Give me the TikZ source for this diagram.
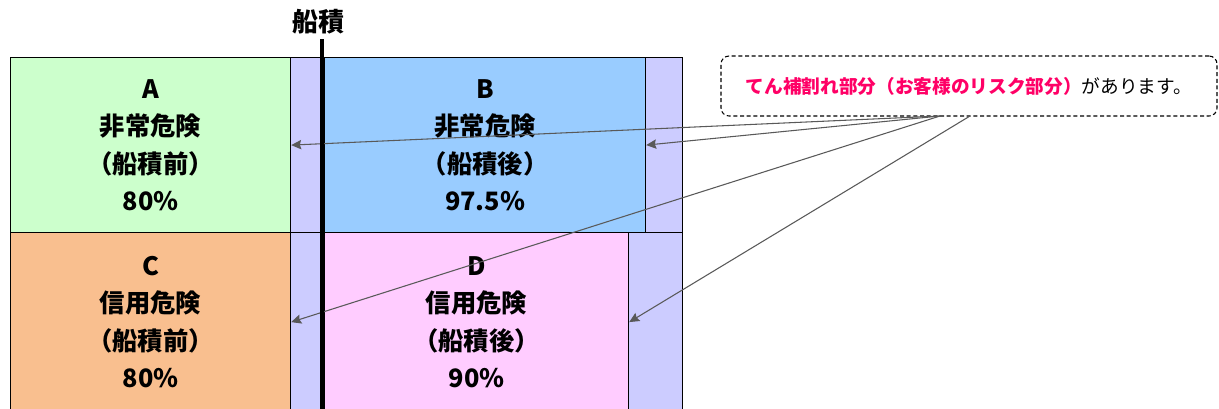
\documentclass[tikz,border=0pt]{standalone}
\usepackage{fontspec}
\setmainfont{Noto Sans CJK JP}
\usetikzlibrary{arrows.meta}
\definecolor{cA}{HTML}{CCFFCC}
\definecolor{cB}{HTML}{99CCFF}
\definecolor{cC}{HTML}{F9BF8F}
\definecolor{cD}{HTML}{FFCCFF}
\definecolor{cS}{HTML}{CCCCFF}
\definecolor{cP}{HTML}{FF0066}
\definecolor{cL}{HTML}{595959}
\begin{document}
\begin{tikzpicture}[x=0.75pt,y=-0.75pt,
  box/.style={draw=black,line width=0.9pt,inner sep=0pt,anchor=north west,align=center,
    font=\bfseries\fontsize{19}{28}\selectfont},
  strip/.style={box,fill=cS},
  conn/.style={draw=cL,line width=0.8pt,-{Stealth[length=7.5pt,width=7pt,inset=1pt]}},
  callout/.style={draw=black,line width=0.8pt,dash pattern=on 3pt off 2pt,rounded corners=6pt,
    minimum width=372pt,minimum height=45pt,inner sep=0pt,font=\fontsize{14}{16}\selectfont},
  thick divider/.style={line width=3.4pt,draw=black}]
\useasboundingbox (0,0) rectangle (1219,408);
\clip (0,0) rectangle (1219,408);
% top row
\node[box,fill=cA,minimum width=210pt,minimum height=131.25pt] (A) at (10,57)
  {A\\非常危険\\（船積前）\\80\%};
\node[strip,minimum width=25.5pt,minimum height=131.25pt] (sAB) at (290,57) {};
\node[box,fill=cB,minimum width=240.75pt,minimum height=131.25pt] (B) at (324,57)
  {B\\非常危険\\（船積後）\\97.5\%};
\node[strip,minimum width=27.75pt,minimum height=131.25pt] (sB) at (645,57) {};
% bottom row
\node[box,fill=cC,minimum width=210pt,minimum height=134.25pt] (C) at (10,232)
  {C\\信用危険\\（船積前）\\80\%};
\node[strip,minimum width=25.5pt,minimum height=134.25pt] (sCD) at (290,232) {};
\node[box,fill=cD,minimum width=228pt,minimum height=134.25pt] (D) at (324,232)
  {D\\信用危険\\（船積後）\\90\%};
\node[strip,minimum width=40.5pt,minimum height=134.25pt] (sD) at (628,232) {};
% callout
\node[callout] (call) at (969,86)
  {{\color{cP}\bfseries てん補割れ部分（お客様のリスク部分）}があります。};
\coordinate (o1) at (940,116);
\coordinate (o2) at (970,116);
\draw[conn] (o1) -- (A.east);
\draw[conn] (o1) -- (B.east);
\draw[conn] (o1) -- (C.east);
\draw[conn] (o2) -- (D.east);
% shipment line
\node[font=\bfseries\fontsize{19.5}{20}\selectfont,inner sep=0pt] (ship) at (318,22) {船積};
\coordinate (t1) at (322,39);
\coordinate (t2) at (322,415);
\draw[thick divider] (t1) -- (t2);
\end{tikzpicture}
\end{document}
